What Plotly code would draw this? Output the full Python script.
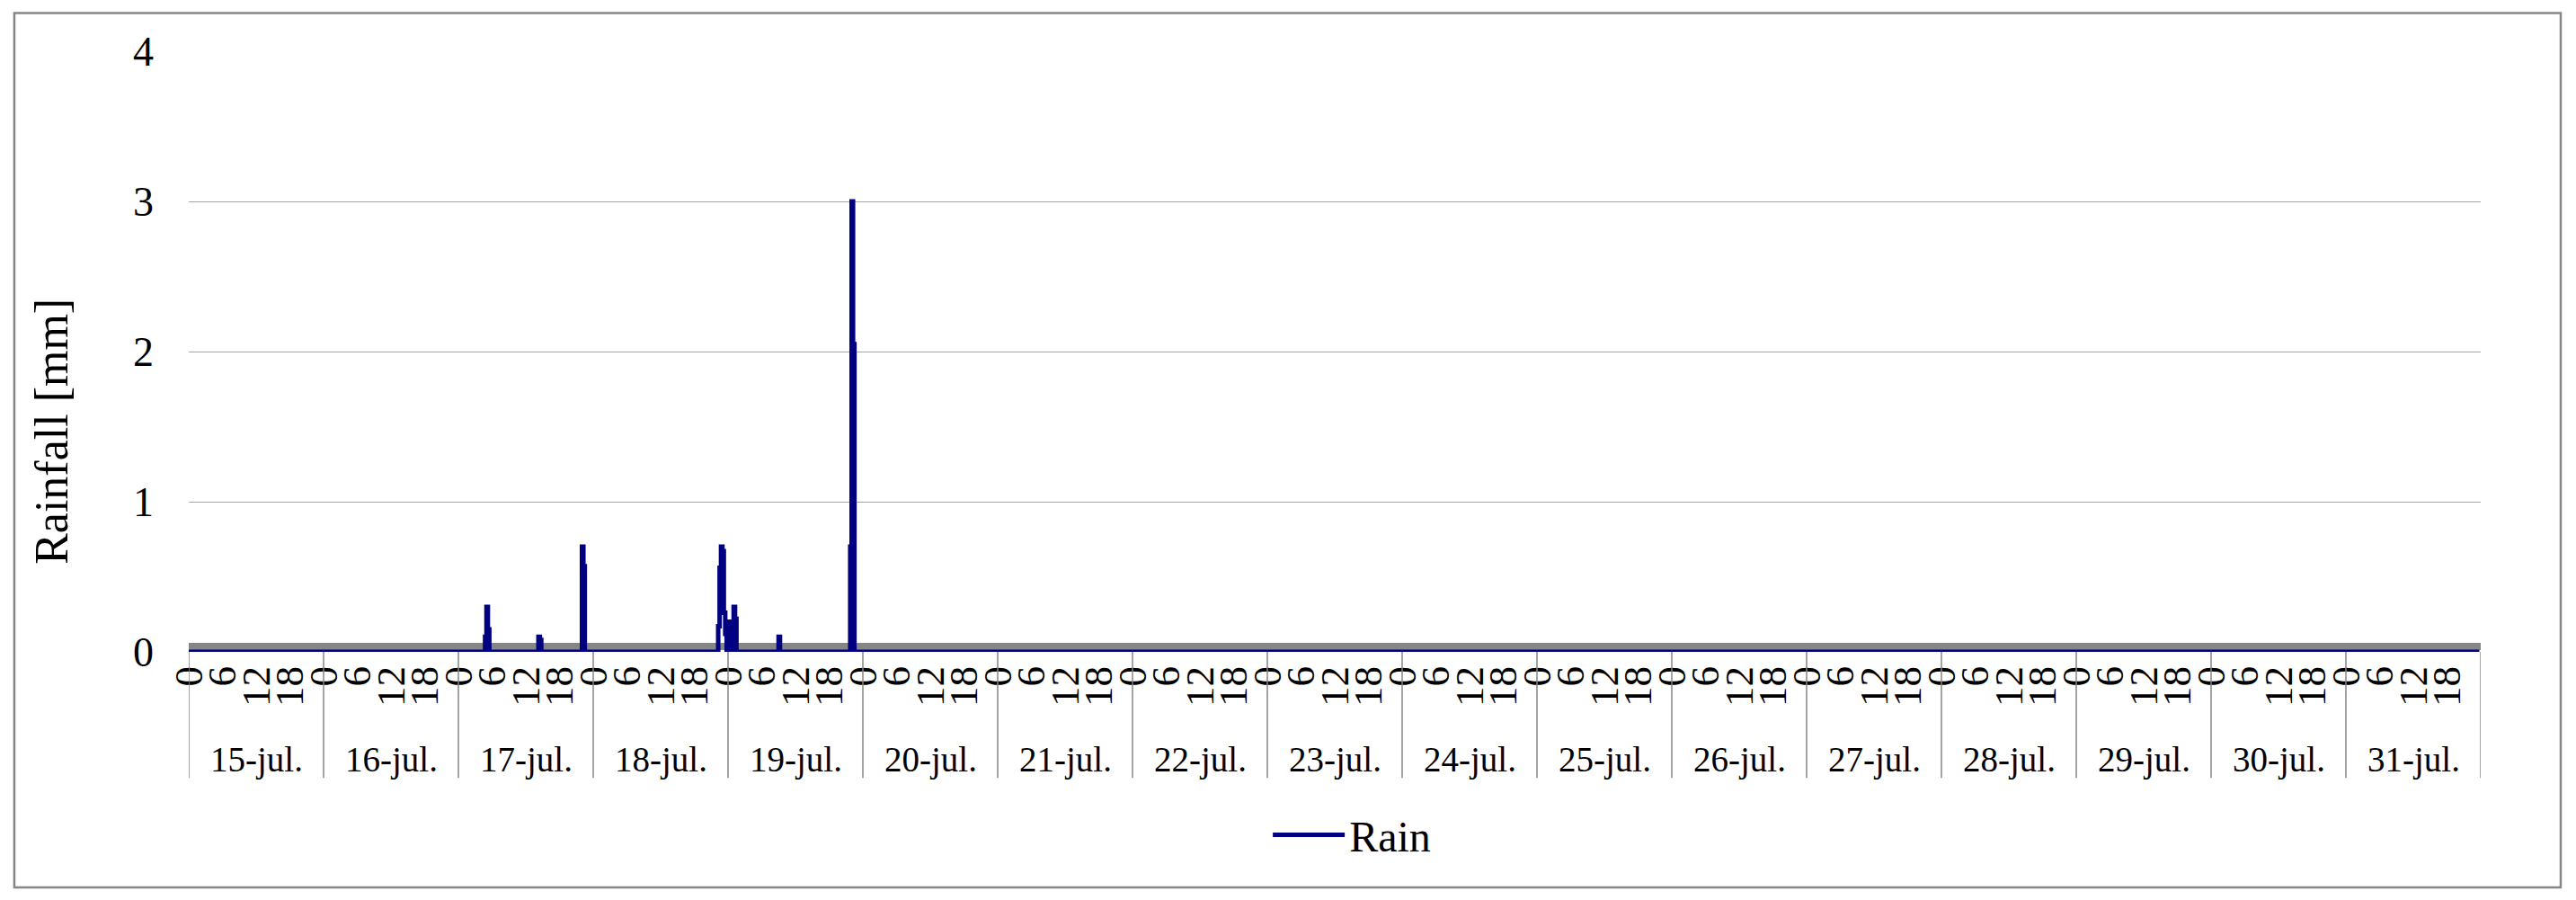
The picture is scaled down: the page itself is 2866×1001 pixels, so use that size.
import pandas as pd
import plotly.graph_objects as go

# Rain events (15-minute readings), everything else is zero
rain_times = [
    "2020-07-17 04:45", "2020-07-17 05:00", "2020-07-17 05:15",
    "2020-07-17 14:15", "2020-07-17 14:30",
    "2020-07-17 22:00", "2020-07-17 22:15",
    "2020-07-18 22:15", "2020-07-18 22:30", "2020-07-18 22:45", "2020-07-18 23:00",
    "2020-07-18 23:15", "2020-07-18 23:30", "2020-07-19 00:15", "2020-07-19 00:30",
    "2020-07-19 01:00", "2020-07-19 01:15",
    "2020-07-19 09:00",
    "2020-07-19 21:45", "2020-07-19 22:00", "2020-07-19 22:15",
]
rain_mm = [
    0.1, 0.3, 0.15,
    0.1, 0.08,
    0.7, 0.57,
    0.17, 0.56, 0.7, 0.67,
    0.26, 0.12, 0.2, 0.2,
    0.3, 0.22,
    0.1,
    0.7, 3.0, 2.05,
]

day_labels = ["15-jul.", "16-jul.", "17-jul.", "18-jul.", "19-jul.", "20-jul.", "21-jul.", "22-jul.",
              "23-jul.", "24-jul.", "25-jul.", "26-jul.", "27-jul.", "28-jul.", "29-jul.", "30-jul.", "31-jul."]
hour_labels = ["0", "6", "12", "18"]
baseline_mm = 0.036

start = pd.Timestamp("2020-07-15 00:00")
end = pd.Timestamp("2020-08-01 00:00")
times = pd.date_range(start, end - pd.Timedelta("15min"), freq="15min")
rain = pd.Series(0.0, index=times)
rain[pd.to_datetime(rain_times)] = rain_mm

days = pd.date_range(start, periods=len(day_labels), freq="D")
tick_vals = pd.date_range(start, end - pd.Timedelta("6h"), freq="6h")
tick_text = [hour_labels[i % 4] for i in range(len(tick_vals))]

FONT = "Palatino Linotype, Book Antiqua, Liberation Serif, serif"
GRAY = "#868686"

fig = go.Figure()
fig.add_trace(go.Scatter(x=[start, end], y=[baseline_mm, baseline_mm], mode='lines',
                         line=dict(color=GRAY, width=8), showlegend=False, hoverinfo='skip'))
fig.add_trace(go.Scatter(x=rain.index, y=rain.values, mode='lines', name='Rain',
                         line=dict(color='#000080', width=5, shape='hv')))

# day separators under the axis
for d in list(days) + [end]:
    fig.add_shape(type='line', x0=d, x1=d, xref='x', y0=0, y1=-0.21, yref='paper',
                  line=dict(color=GRAY, width=1.5))
# day labels
for d, label in zip(days, day_labels):
    fig.add_annotation(x=d + pd.Timedelta("12h"), y=-0.18, xref='x', yref='paper', text=label,
                       showarrow=False, yanchor='middle', font=dict(family=FONT, size=39, color='black'))

# y axis title, sits a bit below the plot centre like the original
fig.add_annotation(x=-0.0596, y=0.367, xref='paper', yref='paper', text='Rainfall [mm]', textangle=-90,
                   showarrow=False, xanchor='center', yanchor='middle',
                   font=dict(family=FONT, size=52, color='black'))

# outer chart border
fig.add_shape(type='rect', xref='paper', yref='paper', x0=-0.0761, x1=1.0349, y0=-0.3922, y1=1.0635,
              line=dict(color=GRAY, width=2.5))

fig.update_xaxes(
    range=[start, end], tickvals=tick_vals, ticktext=tick_text, tickangle=-90,
    tickfont=dict(family=FONT, size=45, color='black'), ticks='', showgrid=False,
    zeroline=False, showline=False, ticklabelstandoff=6
)
fig.update_yaxes(
    range=[0, 4], dtick=1, gridcolor='#A6A6A6', gridwidth=1.3, zeroline=False,
    tickfont=dict(family=FONT, size=46, color='black'), ticklabelstandoff=38
)
fig.update_layout(
    width=2858, height=993,
    margin=dict(l=202, r=106, t=49, b=276),
    paper_bgcolor='white', plot_bgcolor='white',
    legend=dict(orientation='h', x=0.5075, xanchor='center', y=-0.305, yanchor='middle',
                font=dict(family=FONT, size=48, color='black'), itemwidth=80),
)

fig.write_html("out.html")
